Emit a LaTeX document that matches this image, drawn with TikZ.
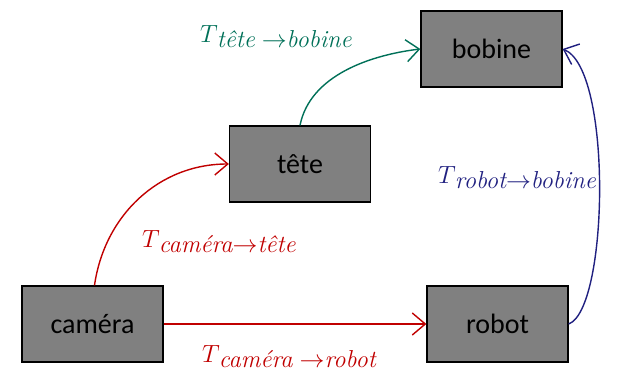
\documentclass[tikz,border=0pt]{standalone}
\usepackage{fontspec}
\newfontfamily\boxfont{Carlito}
\usetikzlibrary{arrows.meta}
\definecolor{cred}{RGB}{192,0,0}
\definecolor{cgreen}{RGB}{0,112,88}
\definecolor{cnavy}{RGB}{32,32,128}
\definecolor{boxgray}{RGB}{128,128,128}
\newcommand{\tlab}[1]{{\fontsize{30}{30}\selectfont$T$}\kern-1pt\raisebox{-5pt}{\fontsize{24.5}{24.5}\selectfont\itshape #1}}
\begin{document}
\begin{tikzpicture}[x=1pt,y=1pt,
  blk/.style={draw=black, line width=1.3pt, fill=boxgray, minimum width=141pt, minimum height=76pt, inner sep=0pt, font=\boxfont\fontsize{28}{28}\selectfont},
  conn/.style={line width=1.4pt, -{Straight Barb[length=13pt,width=22pt,line width=1.4pt]}},
  lab/.style={inner sep=0pt, anchor=base west}]
\useasboundingbox (0,0) rectangle (617,368);
\node[blk] (bobine) at (491.5,319) {bobine};
\node[blk] (tete) at (300,204) {tête};
\node[blk] (camera) at (92.5,44) {caméra};
\node[blk] (robot) at (497.5,44) {robot};
\draw[conn,cred] ([xshift=2pt]camera.north) .. controls +(10,70) and +(-70,0) .. (tete.west);
\draw[conn,cgreen] (tete.north) .. controls +(10,50) and +(-50,-6) .. (bobine.west);
\draw[conn,cred] (camera.east) -- (robot.west);
\draw[conn,cnavy] (robot.east) .. controls +(40,15) and +(50,-20) .. (bobine.east);
\node[lab,text=cgreen] (l1) at (200,326) {\tlab{tête\hspace{7pt}$\rightarrow$bobine}};
\node[lab,text=cnavy] (l2) at (438,185) {\tlab{robot$\rightarrow$bobine}};
\node[lab,text=cred] (l3) at (142,121) {\tlab{caméra$\rightarrow$tête}};
\node[lab,text=cred] (l4) at (202,6) {\tlab{caméra\hspace{7pt}$\rightarrow$robot}};
\end{tikzpicture}
\end{document}
